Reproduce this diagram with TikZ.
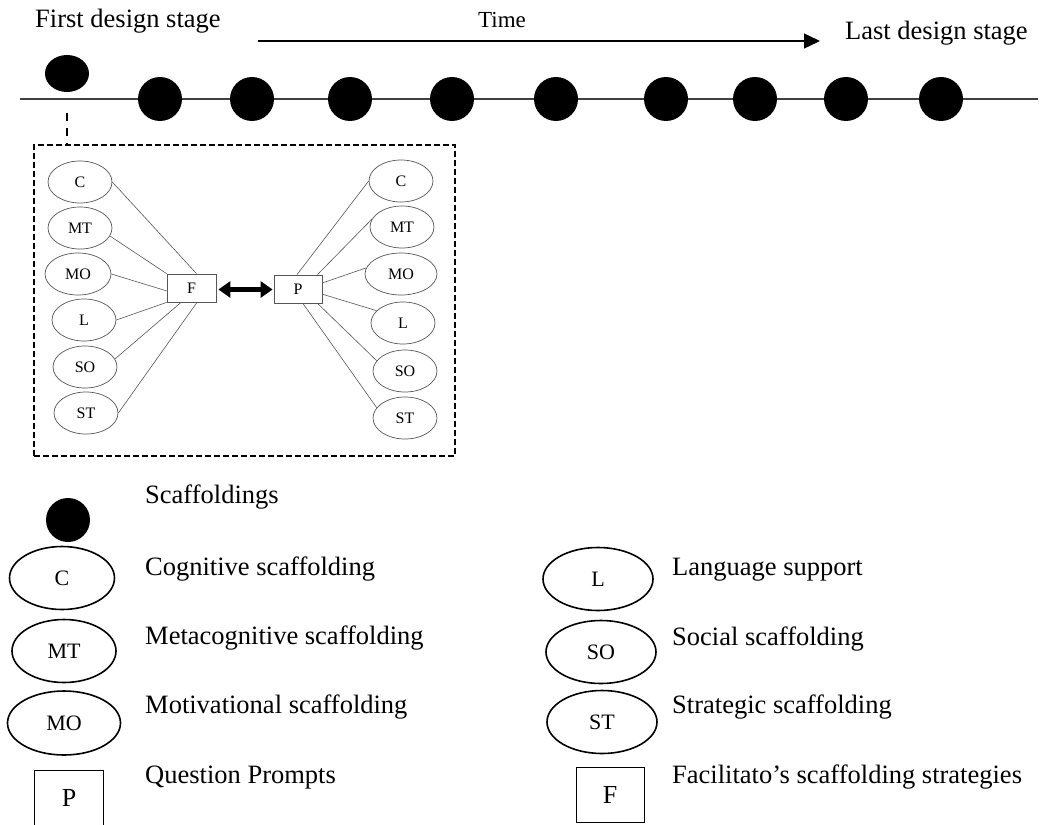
\documentclass[tikz,border=0pt]{standalone}
\usepackage{fontspec}
\setmainfont{Liberation Serif}
\usetikzlibrary{shapes.geometric,arrows.meta,calc}
\definecolor{thin}{RGB}{85,85,85}
\tikzset{
  big/.style={font=\fontsize{26.5}{30}\selectfont},
  lbl/.style={big, anchor=base west, inner sep=0pt},
  dot/.style={circle, fill=black, minimum size=44pt, inner sep=0pt},
  sel/.style={ellipse, draw=thin, line width=0.7pt, minimum width=64pt, minimum height=42pt, inner sep=0pt, font=\fontsize{16}{18}\selectfont},
  sbox/.style={rectangle, draw=thin, line width=0.8pt, minimum width=49pt, minimum height=28pt, inner sep=0pt, font=\fontsize{16}{18}\selectfont},
  lel/.style={ellipse, draw=black, line width=1.6pt, minimum width=108pt, minimum height=63pt, inner sep=0pt, font=\fontsize{22}{24}\selectfont},
  lbox/.style={rectangle, draw=black, line width=1pt, minimum width=69pt, minimum height=56pt, inner sep=0pt, font=\fontsize{26}{28}\selectfont},
  link/.style={draw=thin, line width=0.6pt},
}
\begin{document}
\begin{tikzpicture}[x=1pt,y=-1pt]
\useasboundingbox (0,0) rectangle (1051,824);
\clip (0,0) rectangle (1051,824);

% header texts
\node[lbl] (first) at (35,28) {First design stage};
\node[lbl] (last) at (845,40) {Last design stage};
\node[anchor=base west, inner sep=0pt, font=\fontsize{23}{26}\selectfont] (time) at (478,28) {Time};

% time arrow
\coordinate (ta) at (258,41);
\coordinate (tb) at (820,41);
\draw[line width=1.3pt, -{Triangle[length=16pt,width=15pt]}] (ta) -- (tb);

% timeline
\coordinate (tl) at (20,99);
\coordinate (tr) at (1038,99);
\draw[draw=black!75, line width=1.3pt] (tl) -- (tr);

% stage dots
\node[ellipse, fill=black, minimum width=44pt, minimum height=37pt, inner sep=0pt] (d0) at (67,73.5) {};
\foreach \i/\x in {1/160,2/252,3/350,4/452,5/556,6/666,7/755,8/846,9/941}{
  \node[dot] (d\i) at (\x,99) {};
}

% dashed frame
\node[rectangle, draw=black, line width=1.5pt, dash pattern=on 6pt off 3pt,
      minimum width=421pt, minimum height=311pt, inner sep=0pt] (frame) at (244.5,300.5) {};
\coordinate (dtop) at (67,113);
\draw[line width=1.3pt, dash pattern=on 8pt off 7pt] (dtop) -- (dtop |- frame.north);

% left ellipses
\node[sel] (lC)  at (80,182)  {C};
\node[sel] (lMT) at (80,228)  {MT};
\node[sel, minimum width=66pt] (lMO) at (78,274)  {MO};
\node[sel] (lL)  at (84,320)  {L};
\node[sel] (lSO) at (85,367)  {SO};
\node[sel] (lST) at (86,413)  {ST};
% right ellipses
\node[sel] (rC)  at (401,181) {C};
\node[sel] (rMT) at (402,227) {MT};
\node[sel, minimum width=72pt] (rMO) at (401,274) {MO};
\node[sel] (rL)  at (403,323) {L};
\node[sel] (rSO) at (405,371) {SO};
\node[sel] (rST) at (405,418) {ST};

% F and P
\node[sbox] (F) at (191.5,288) {F};
\node[sbox, minimum width=48pt] (P) at (298,289) {P};
\draw[line width=5pt, {Triangle[length=12pt,width=16pt]}-{Triangle[length=12pt,width=16pt]},
      shorten <=2pt, shorten >=1pt] ($(F.east)+(0,1.5)$) -- ($(P.west)+(0,0.5)$);

% left links
\draw[link] (lC.east) -- ($(F.north west)!0.6!(F.north east)$);
\draw[link] (lMT.-15) -- (F.north west);
\draw[link] (lMO.east) -- ($(F.north west)!0.6!(F.south west)$);
\draw[link] (lL.east) -- (F.south west);
\draw[link] (lSO.15) -- ($(F.south west)!0.29!(F.south east)$);
\draw[link] (lST.east) -- ($(F.south west)!0.61!(F.south east)$);
% right links
\draw[link] (rC.west) -- ($(P.north west)!0.48!(P.north east)$);
\draw[link] (rMT.165) -- ($(P.north west)!0.9!(P.north east)$);
\draw[link] (rMO.170) -- ($(P.north east)!0.29!(P.south east)$);
\draw[link] (rL.155) -- ($(P.north east)!0.68!(P.south east)$);
\draw[link] (rSO.160) -- ($(P.south west)!0.9!(P.south east)$);
\draw[link] (rST.160) -- ($(P.south west)!0.6!(P.south east)$);

% legend left
\node[dot] (kdot) at (68,520) {};
\node[lbl] (tdot) at (145,503) {Scaffoldings};
\node[lel, minimum width=105pt] (kC) at (62,578) {C};
\node[lbl] (tC) at (145,575) {Cognitive scaffolding};
\node[lel, minimum width=104pt] (kMT) at (64,651) {MT};
\node[lbl] (tMT) at (145,644) {Metacognitive scaffolding};
\node[lel, minimum width=113pt, minimum height=64pt] (kMO) at (64,723) {MO};
\node[lbl] (tMO) at (145,713) {Motivational scaffolding};
\node[lbox] (kP) at (69,798) {P};
\node[lbl] (tP) at (145,783) {Question Prompts};

% legend right
\node[lel, minimum width=110pt] (kL) at (598,579) {L};
\node[lbl] (tL) at (672,575) {Language support};
\node[lel, minimum width=110pt] (kSO) at (601,652) {SO};
\node[lbl] (tSO) at (672,645) {Social scaffolding};
\node[lel, minimum width=110pt] (kST) at (602,722) {ST};
\node[lbl] (tST) at (672,713) {Strategic scaffolding};
\node[lbox, minimum width=68pt, minimum height=55pt] (kF) at (610,794.5) {F};
\node[lbl] (tF) at (672,783) {Facilitato’s scaffolding strategies};
\end{tikzpicture}
\end{document}
